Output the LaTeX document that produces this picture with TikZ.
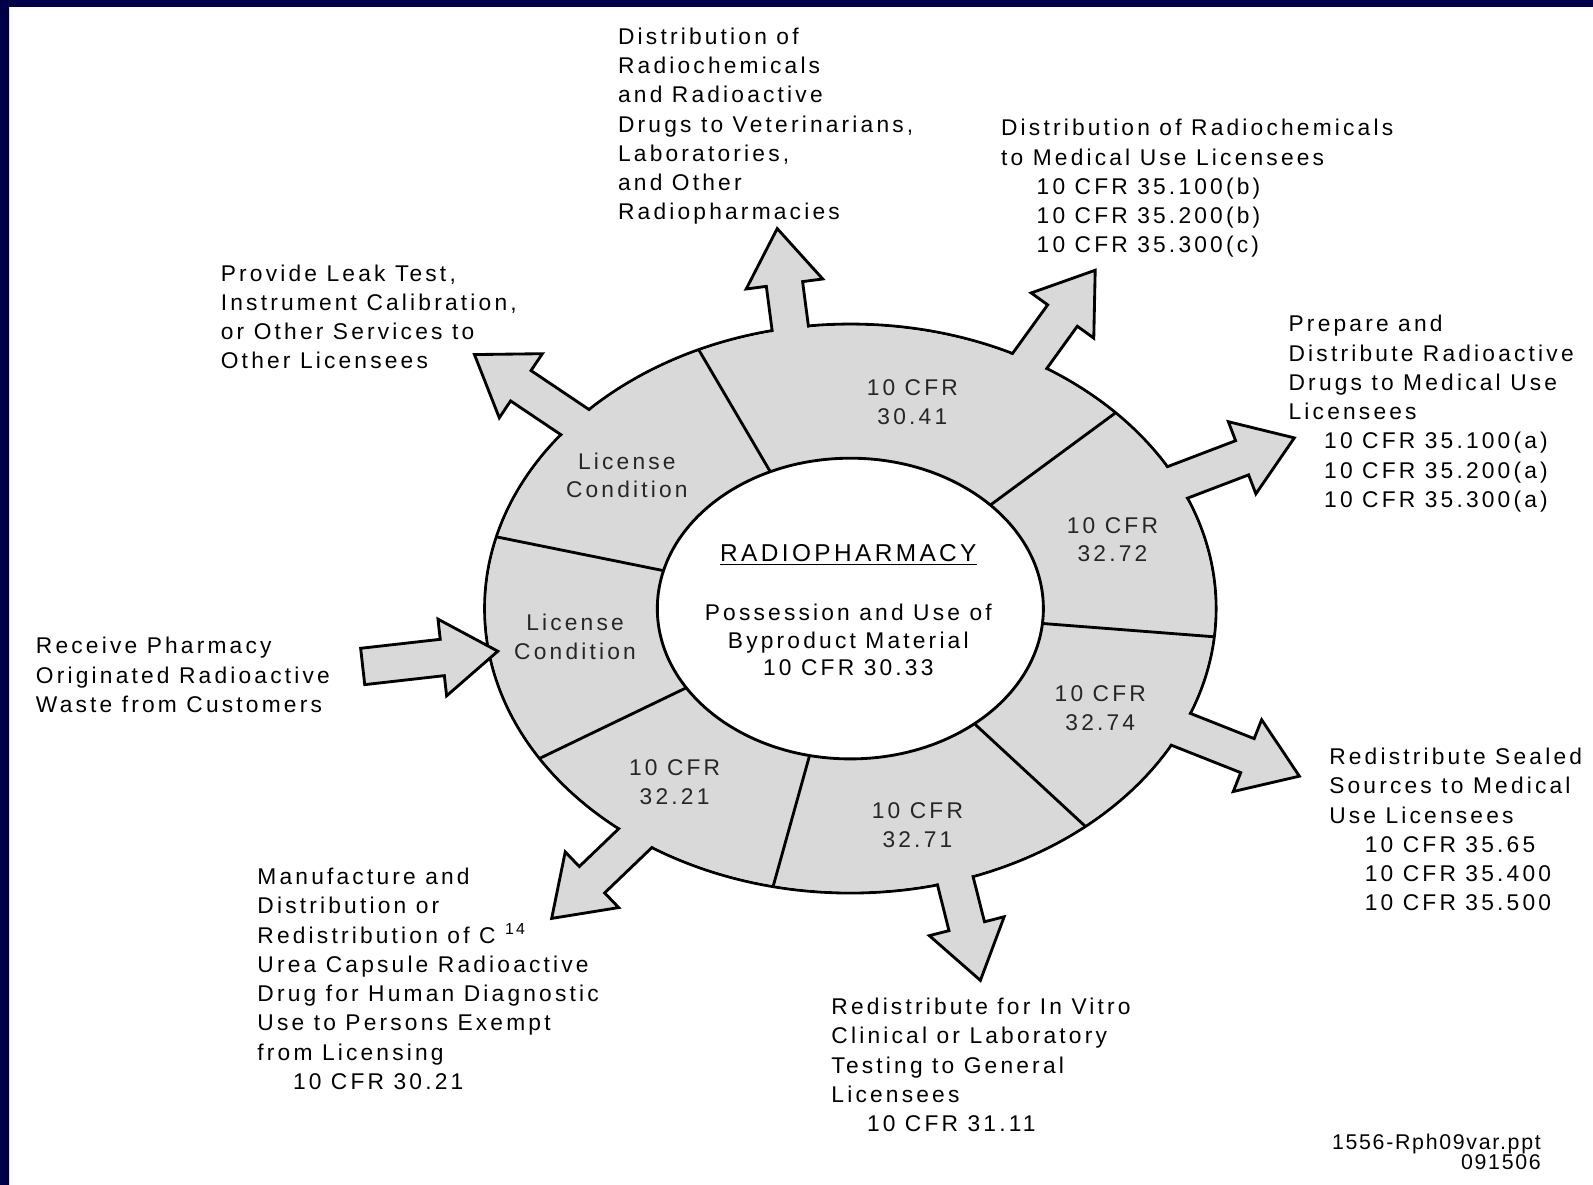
\documentclass[tikz,border=0pt]{standalone}
\usepackage{fontspec}
\setmainfont[LetterSpace=14]{Liberation Sans}
\newfontfamily\footfont[LetterSpace=8]{Liberation Sans}
\usetikzlibrary{calc}

\definecolor{ringgray}{RGB}{217,217,217}
\definecolor{navytop}{RGB}{0,0,72}
\definecolor{navymid}{RGB}{0,0,120}
\newcommand{\ind}{\hspace*{17.5pt}}

\begin{document}
\begin{tikzpicture}[x=0.5pt,y=-0.5pt,
		ring/.style={fill=ringgray,draw=black,line width=1.4pt},
		fatarrow/.style={fill=ringgray,draw=black,line width=1.4pt,line join=miter},
		divider/.style={draw=black,line width=1.4pt},
		outtext/.style={anchor=north west,align=left,inner sep=0pt,text=black,font=\fontsize{11.2}{14.4}\selectfont},
		seg/.style={align=center,inner sep=0pt,text=black!85,font=\fontsize{11.2}{14}\selectfont}]

		\useasboundingbox (0,0) rectangle (1568,1166);
		\fill[white] (0,0) rectangle (1568,1166);
		\fill[navytop] (0,0) rectangle (1568,7);
		\shade[top color=navytop,middle color=navymid,bottom color=navytop] (0,0) rectangle (9,1166);

		\coordinate (c) at (837,599);
		\coordinate (s1) at (781,347);   \coordinate (tip1) at (765,225);
		\coordinate (s2) at (1000,374);  \coordinate (tip2) at (1078,266);
		\coordinate (s3) at (1135,484);  \coordinate (tip3) at (1274,431);
		\coordinate (s4) at (1145,711);  \coordinate (tip4) at (1279,764);
		\coordinate (s5) at (357,656);   \coordinate (tip5) at (490,641);
		\coordinate (s6) at (643,808);   \coordinate (tip6) at (543,904);
		\coordinate (s7) at (934,842);   \coordinate (tip7) at (965,965);
		\coordinate (s8) at (586,429);   \coordinate (tip8) at (467,349);

		\draw[ring] (c) ellipse [x radius=180pt,y radius=140pt];

		\foreach \bs/\tp in {s1/tip1,s2/tip2,s3/tip3,s4/tip4,s6/tip6,s7/tip7,s8/tip8} {
			\path ($(\tp)!27.5pt!(\bs)$) coordinate (h);
			\filldraw[fatarrow] ($(\bs)!9pt!90:(\tp)$) -- ($(h)!9pt!90:(\tp)$) -- ($(h)!19pt!90:(\tp)$) -- (\tp)
				-- ($(h)!19pt!-90:(\tp)$) -- ($(h)!9pt!-90:(\tp)$) -- ($(\bs)!9pt!-90:(\tp)$) -- cycle;
		}

		\fill[ringgray] (c) ellipse [x radius=179.2pt,y radius=139.2pt];
		\draw[ring,fill=white] (c) ellipse [x radius=95pt,y radius=74pt];

		\foreach \a in {-114.5,-43.5,5.7,50,102.2,148.2,194.6}
			\draw[divider] ($(c)+(\a:190 and 148)$) -- ($(c)+(\a:360 and 280)$);

		\path ($(tip5)!27.5pt!(s5)$) coordinate (h);
		\filldraw[fatarrow] ($(s5)!9pt!90:(tip5)$) -- ($(h)!9pt!90:(tip5)$) -- ($(h)!19pt!90:(tip5)$) -- (tip5)
			-- ($(h)!19pt!-90:(tip5)$) -- ($(h)!9pt!-90:(tip5)$) -- ($(s5)!9pt!-90:(tip5)$) -- cycle;

		\draw (898,396) node [seg] (cfr3041) {10 CFR\\30.41};
		\draw (1095,531) node [seg] (cfr3272) {10 CFR\\32.72};
		\draw (1083,697) node [seg] (cfr3274) {10 CFR\\32.74};
		\draw (903,812) node [seg] (cfr3271) {10 CFR\\32.71};
		\draw (664,770) node [seg] (cfr3221) {10 CFR\\32.21};
		\draw (566,627) node [seg] (liclow) {License\\Condition};
		\draw (617,468) node [seg] (licup) {License\\Condition};

		\draw (835,546) node [seg,text=black,font=\fontsize{12}{14}\selectfont] (title) {\underline{RADIOPHARMACY}};
		\draw (835,630) node [seg,text=black,font=\fontsize{11.2}{13.5}\selectfont] (byprod) {Possession and Use of\\Byproduct Material\\10 CFR 30.33};

		\draw (608,27) node [outtext] (vet) {Distribution of\\Radiochemicals\\and Radioactive\\Drugs to Veterinarians,\\Laboratories,\\and Other\\Radiopharmacies};
		\draw (985,117) node [outtext] (medchem) {Distribution of Radiochemicals\\to Medical Use Licensees\\\ind 10 CFR 35.100(b)\\\ind 10 CFR 35.200(b)\\\ind 10 CFR 35.300(c)};
		\draw (217,260) node [outtext] (leak) {Provide Leak Test,\\Instrument Calibration,\\or Other Services to\\Other Licensees};
		\draw (1268,310) node [outtext] (prep) {Prepare and\\Distribute Radioactive\\Drugs to Medical Use\\Licensees\\\ind 10 CFR 35.100(a)\\\ind 10 CFR 35.200(a)\\\ind 10 CFR 35.300(a)};
		\draw (35,627) node [outtext] (waste) {Receive Pharmacy\\Originated Radioactive\\Waste from Customers};
		\draw (1308,736) node [outtext] (sealed) {Redistribute Sealed\\Sources to Medical\\Use Licensees\\\ind 10 CFR 35.65\\\ind 10 CFR 35.400\\\ind 10 CFR 35.500};
		\draw (818,982) node [outtext] (vitro) {Redistribute for In Vitro\\Clinical or Laboratory\\Testing to General\\Licensees\\\ind 10 CFR 31.11};
		\draw (253,854) node [outtext] (urea) {Manufacture and\\Distribution or\\Redistribution of C \textsuperscript{14}\\Urea Capsule Radioactive\\Drug for Human Diagnostic\\Use to Persons Exempt\\from Licensing\\\ind 10 CFR 30.21};

		\draw (1517,1116) node [anchor=north east,align=right,inner sep=0pt,text=black,font=\footfont\fontsize{10.5}{9.6}\selectfont] (file) {1556-Rph09var.ppt\\091506};
	\end{tikzpicture}
\end{document}
